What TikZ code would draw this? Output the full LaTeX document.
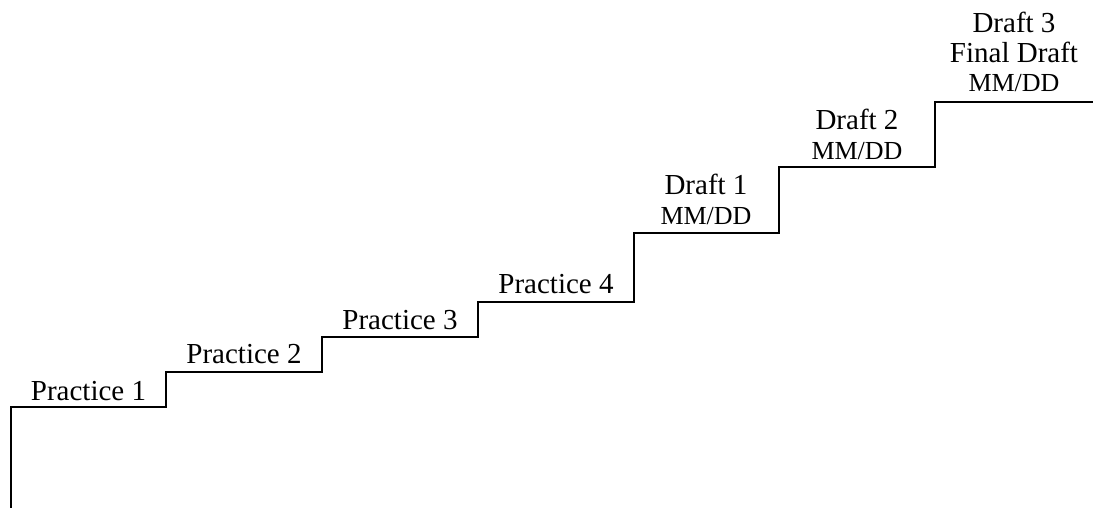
\documentclass[tikz,border=0pt]{standalone}
\usepackage{fontspec}
\setmainfont{Liberation Serif}
\begin{document}
\begin{tikzpicture}[x=1pt,y=-1pt,
  stair/.style={line width=1.6pt,line join=miter},
  big/.style={anchor=base,inner sep=0pt,font=\fontsize{29}{32}\selectfont},
  small/.style={anchor=base,inner sep=0pt,font=\fontsize{26}{30}\selectfont}]
\useasboundingbox (0,0) rectangle (1093,508);
\draw[stair] (11,508) -- (11,407) -- (166,407) -- (166,372) -- (322,372) -- (322,337)
  -- (478,337) -- (478,302) -- (634,302) -- (634,233) -- (779,233) -- (779,167)
  -- (935,167) -- (935,102) -- (1093,102);
\node[big] (p1) at (88.5,400.5) {Practice 1};
\node[big] (p2) at (244,363.5) {Practice 2};
\node[big] (p3) at (400,329) {Practice 3};
\node[big] (p4) at (556,293) {Practice 4};
\node[big] (d1a) at (706,195) {Draft 1};
\node[small] (d1b) at (706,225) {MM/DD};
\node[big] (d2a) at (857,130) {Draft 2};
\node[small] (d2b) at (857,160) {MM/DD};
\node[big] (d3a) at (1014,33) {Draft 3};
\node[big] (d3b) at (1014,63) {Final Draft};
\node[small] (d3c) at (1014,92) {MM/DD};
\end{tikzpicture}
\end{document}
